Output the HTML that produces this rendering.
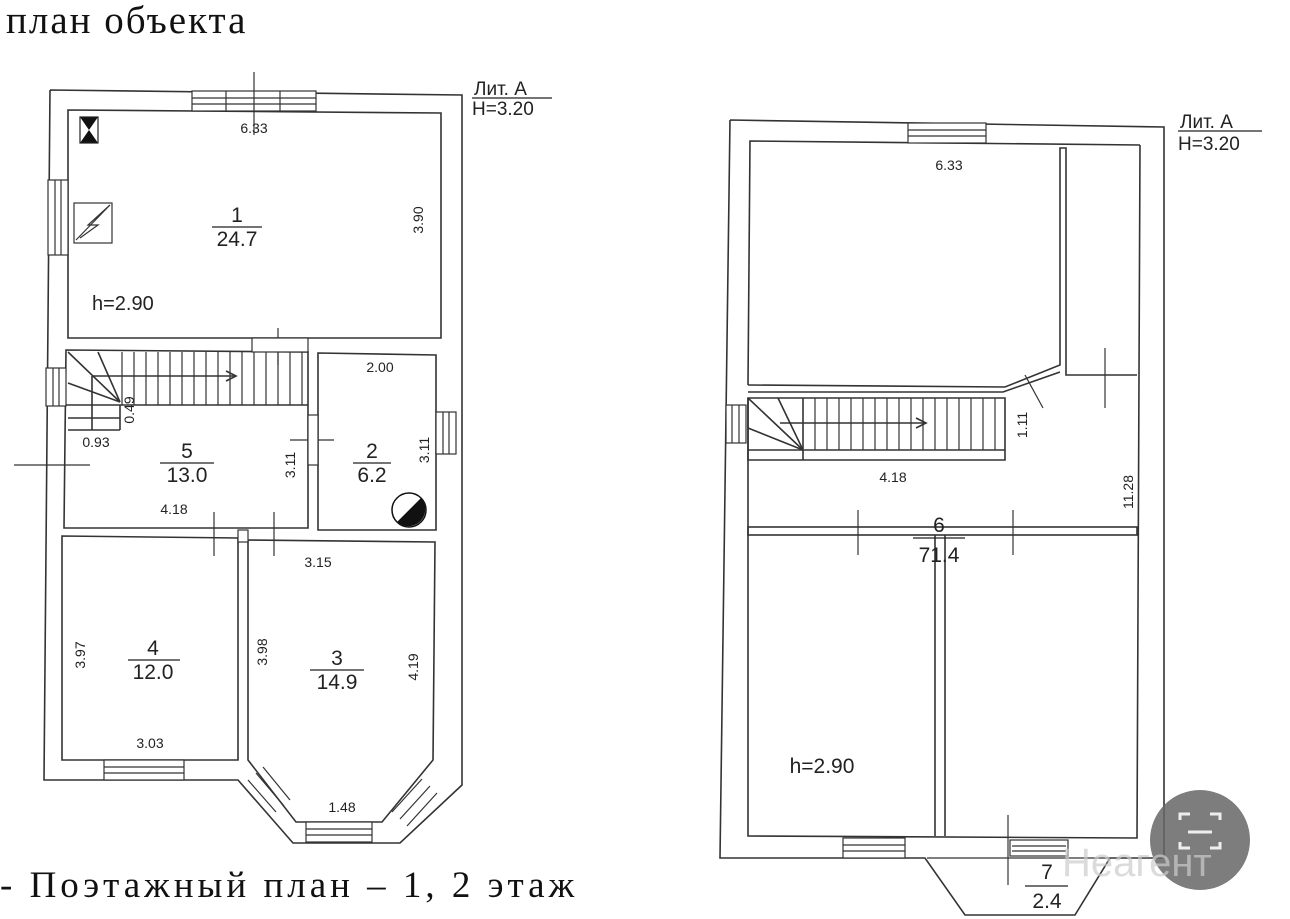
<!DOCTYPE html>
<html><head><meta charset="utf-8"><style>
html,body{margin:0;padding:0;background:#fff;}
svg{display:block}
.s{font-family:"Liberation Sans",sans-serif;fill:#222}
.r{font-family:"Liberation Serif","DejaVu Serif",serif;fill:#111}
</style></head><body>
<svg width="1290" height="919" viewBox="0 0 1290 919" xmlns="http://www.w3.org/2000/svg">
<rect width="1290" height="919" fill="#fff"/>
<text x="6" y="33" class="r" font-size="39" letter-spacing="2">план объекта</text>
<text x="0" y="897" class="r" font-size="37" letter-spacing="4">- Поэтажный план – 1, 2 этаж</text>

<g fill="none" stroke="#333" stroke-width="1.6">
<polyline points="50,90 462,95 462,785 400,843 293,843 238,780 44,780 50,90"/>
<polygon points="68,110 441,113 441,338 68,338"/>
<polygon points="66,350 308,352 308,528 64,528"/>
<polygon points="318,353 436,355 436,530 318,530"/>
<polygon points="62,536 238,538 238,760 62,760"/>
<polygon points="248,540 435,542 433,760 382,822 296,822 248,760"/>
<line x1="66" y1="405" x2="308" y2="405"/>
<line x1="68" y1="418" x2="120" y2="418"/>
<line x1="68" y1="430" x2="120" y2="430"/>
<line x1="120" y1="405" x2="120" y2="430"/>
<line x1="68" y1="352" x2="120" y2="402"/>
<line x1="98" y1="352" x2="120" y2="402"/>
<line x1="68" y1="383" x2="120" y2="402"/>
<line x1="92" y1="376" x2="92" y2="430"/>
<line x1="92" y1="376" x2="236" y2="376"/>
<polyline points="226,371 236,376 226,381"/>
</g>
<g stroke="#333" stroke-width="1.2">
<line x1="122" y1="352" x2="122" y2="405"/><line x1="134" y1="352" x2="134" y2="405"/><line x1="146" y1="352" x2="146" y2="405"/><line x1="158" y1="352" x2="158" y2="405"/><line x1="170" y1="352" x2="170" y2="405"/><line x1="182" y1="352" x2="182" y2="405"/><line x1="194" y1="352" x2="194" y2="405"/><line x1="206" y1="352" x2="206" y2="405"/><line x1="218" y1="352" x2="218" y2="405"/><line x1="230" y1="352" x2="230" y2="405"/><line x1="242" y1="352" x2="242" y2="405"/><line x1="254" y1="352" x2="254" y2="405"/><line x1="266" y1="352" x2="266" y2="405"/><line x1="278" y1="352" x2="278" y2="405"/><line x1="290" y1="352" x2="290" y2="405"/><line x1="302" y1="352" x2="302" y2="405"/>
<rect x="192" y="91" width="124" height="20" fill="#fff"/>
<line x1="192" y1="98" x2="316" y2="98"/><line x1="192" y1="104" x2="316" y2="104"/>
<line x1="226" y1="91" x2="226" y2="111"/><line x1="280" y1="91" x2="280" y2="111"/>
<line x1="254" y1="72" x2="254" y2="135"/>
<rect x="48" y="180" width="20" height="75" fill="#fff"/><line x1="55" y1="180" x2="55" y2="255"/><line x1="61" y1="180" x2="61" y2="255"/>
<rect x="46" y="368" width="20" height="38" fill="#fff"/><line x1="53" y1="368" x2="53" y2="406"/><line x1="59" y1="368" x2="59" y2="406"/>
<rect x="436" y="412" width="20" height="42" fill="#fff"/><line x1="443" y1="412" x2="443" y2="454"/><line x1="449" y1="412" x2="449" y2="454"/>
<rect x="104" y="760" width="80" height="20" fill="#fff"/><line x1="104" y1="767" x2="184" y2="767"/><line x1="104" y1="773" x2="184" y2="773"/>
<rect x="306" y="822" width="66" height="20" fill="#fff"/><line x1="306" y1="829" x2="372" y2="829"/><line x1="306" y1="835" x2="372" y2="835"/>
<line x1="248" y1="780" x2="276" y2="812"/><line x1="256" y1="773" x2="284" y2="806"/><line x1="263" y1="767" x2="290" y2="800"/>
<line x1="392" y1="812" x2="422" y2="779"/><line x1="400" y1="819" x2="430" y2="786"/><line x1="407" y1="826" x2="437" y2="793"/>
<line x1="278" y1="328" x2="278" y2="365"/><line x1="14" y1="465" x2="90" y2="465"/>
<line x1="290" y1="440" x2="334" y2="440"/><line x1="214" y1="512" x2="214" y2="556"/><line x1="274" y1="512" x2="274" y2="556"/>
<rect x="308" y="415" width="10" height="50" fill="#fff"/>
<rect x="252" y="338" width="56" height="14" fill="#fff"/>
<rect x="238" y="530" width="10" height="12" fill="#fff"/>
</g>
<polygon points="80,117 98,117 89,130" fill="#111"/><polygon points="80,143 98,143 89,130" fill="#111"/>
<rect x="80" y="117" width="18" height="26" fill="none" stroke="#222" stroke-width="1.2"/>
<rect x="74" y="203" width="38" height="40" fill="none" stroke="#333" stroke-width="1.2"/>
<polyline points="76,240 110,205 88,225 98,225 80,238" fill="none" stroke="#333" stroke-width="1.2"/>
<circle cx="409" cy="510" r="17" fill="#fff" stroke="#111" stroke-width="1.5"/>
<path d="M421,498 A17,17 0 0 1 397,522 Z" fill="#111"/>

<g class="s" font-size="14" text-anchor="middle">
<text x="254" y="133">6.33</text>
<text x="380" y="372">2.00</text>
<text x="96" y="447">0.93</text>
<text x="174" y="514">4.18</text>
<text x="318" y="567">3.15</text>
<text x="150" y="748">3.03</text>
<text x="342" y="812">1.48</text>
<text x="92" y="310" font-size="20" text-anchor="start">h=2.90</text>
</g>
<g class="s" font-size="14" text-anchor="middle">
<text transform="translate(423,220) rotate(-90)">3.90</text>
<text transform="translate(134,410) rotate(-90)">0.49</text>
<text transform="translate(295,465) rotate(-90)">3.11</text>
<text transform="translate(429,450) rotate(-90)">3.11</text>
<text transform="translate(85,655) rotate(-90)">3.97</text>
<text transform="translate(267,652) rotate(-90)">3.98</text>
<text transform="translate(418,667) rotate(-90)">4.19</text>
</g>
<g class="s" font-size="21" text-anchor="middle">
<text x="237" y="222">1</text><line x1="212" y1="227" x2="262" y2="227" stroke="#222" stroke-width="1.2"/><text x="237" y="246">24.7</text>
<text x="187" y="458">5</text><line x1="160" y1="463" x2="214" y2="463" stroke="#222" stroke-width="1.2"/><text x="187" y="482">13.0</text>
<text x="372" y="458">2</text><line x1="353" y1="463" x2="391" y2="463" stroke="#222" stroke-width="1.2"/><text x="372" y="482">6.2</text>
<text x="153" y="655">4</text><line x1="128" y1="660" x2="180" y2="660" stroke="#222" stroke-width="1.2"/><text x="153" y="679">12.0</text>
<text x="337" y="665">3</text><line x1="310" y1="670" x2="364" y2="670" stroke="#222" stroke-width="1.2"/><text x="337" y="689">14.9</text>
</g>
<g class="s" font-size="19">
<text x="474" y="95">Лит. А</text><line x1="472" y1="98" x2="552" y2="98" stroke="#222" stroke-width="1.2"/><text x="472" y="115">H=3.20</text>
<text x="1180" y="128">Лит. А</text><line x1="1178" y1="131" x2="1262" y2="131" stroke="#222" stroke-width="1.2"/><text x="1178" y="150">H=3.20</text>
</g>

<g fill="none" stroke="#333" stroke-width="1.6">
<polyline points="730,120 1164,127 1164,858 1110,858 1075,915 965,915 925,858 720,858 730,120"/>
<polyline points="748,385 750,141 1140,145"/>
<polyline points="748,385 1005,387 1060,365 1060,148 1066,148 1066,375 1137,375"/>
<polyline points="1140,145 1137,838 748,836 748,398"/>
<polyline points="748,392 1003,392 1060,372"/>
<rect x="748" y="527" width="389" height="8"/>
<line x1="935" y1="535" x2="935" y2="836"/><line x1="945" y1="535" x2="945" y2="836"/>
<polygon points="748,398 1005,398 1005,460 748,460"/>
<line x1="748" y1="450" x2="1005" y2="450"/>
<line x1="748" y1="398" x2="803" y2="450"/><line x1="778" y1="398" x2="803" y2="450"/><line x1="748" y1="428" x2="803" y2="450"/>
<line x1="803" y1="398" x2="803" y2="460"/>
<line x1="780" y1="423" x2="926" y2="423"/><polyline points="916,418 926,423 916,428"/>
</g>
<g stroke="#333" stroke-width="1.2">
<line x1="815" y1="398" x2="815" y2="450"/><line x1="827" y1="398" x2="827" y2="450"/><line x1="839" y1="398" x2="839" y2="450"/><line x1="851" y1="398" x2="851" y2="450"/><line x1="863" y1="398" x2="863" y2="450"/><line x1="875" y1="398" x2="875" y2="450"/><line x1="887" y1="398" x2="887" y2="450"/><line x1="899" y1="398" x2="899" y2="450"/><line x1="911" y1="398" x2="911" y2="450"/><line x1="923" y1="398" x2="923" y2="450"/><line x1="935" y1="398" x2="935" y2="450"/><line x1="947" y1="398" x2="947" y2="450"/><line x1="959" y1="398" x2="959" y2="450"/><line x1="971" y1="398" x2="971" y2="450"/><line x1="983" y1="398" x2="983" y2="450"/><line x1="995" y1="398" x2="995" y2="450"/>
<rect x="726" y="405" width="20" height="38" fill="#fff"/><line x1="732" y1="405" x2="732" y2="443"/><line x1="739" y1="405" x2="739" y2="443"/>
<rect x="908" y="123" width="78" height="20" fill="#fff"/><line x1="908" y1="130" x2="986" y2="130"/><line x1="908" y1="136" x2="986" y2="136"/>
<rect x="843" y="838" width="62" height="20" fill="#fff"/><line x1="843" y1="845" x2="905" y2="845"/><line x1="843" y1="851" x2="905" y2="851"/>
<rect x="1010" y="840" width="58" height="16" fill="#fff"/><line x1="1012" y1="846" x2="1066" y2="846"/><line x1="1012" y1="851" x2="1066" y2="851"/>
<line x1="1025" y1="375" x2="1043" y2="408"/><line x1="1105" y1="348" x2="1105" y2="408"/>
<line x1="858" y1="510" x2="858" y2="555"/><line x1="1013" y1="510" x2="1013" y2="555"/>
<line x1="1008" y1="815" x2="1008" y2="885"/>
<line x1="927" y1="858" x2="1110" y2="858"/>
</g>
<g class="s" font-size="14" text-anchor="middle">
<text x="949" y="170">6.33</text>
<text x="893" y="482">4.18</text>
<text transform="translate(1027,425) rotate(-90)">1.11</text>
<text transform="translate(1133,492) rotate(-90)">11.28</text>
<text x="822" y="773" font-size="21">h=2.90</text>
</g>
<g class="s" font-size="21" text-anchor="middle">
<text x="939" y="532">6</text><line x1="913" y1="538" x2="965" y2="538" stroke="#222" stroke-width="1.2"/><text x="939" y="562">71.4</text>
<text x="1047" y="879">7</text><line x1="1025" y1="886" x2="1068" y2="886" stroke="#222" stroke-width="1.2"/><text x="1047" y="908">2.4</text>
</g>
<circle cx="1200" cy="840" r="50" fill="#666" opacity="0.85"/>
<path d="M1180,820 v-6 h10 M1210,814 h10 v6 M1180,842 v6 h10 M1210,848 h10 v-6" fill="none" stroke="#eee" stroke-width="3"/>
<line x1="1188" y1="832" x2="1212" y2="832" stroke="#eee" stroke-width="3"/>
<text x="1062" y="876" font-family="Liberation Sans,sans-serif" font-size="40" fill="#ccc" opacity="0.7">Неагент</text>
</svg>
</body></html>
